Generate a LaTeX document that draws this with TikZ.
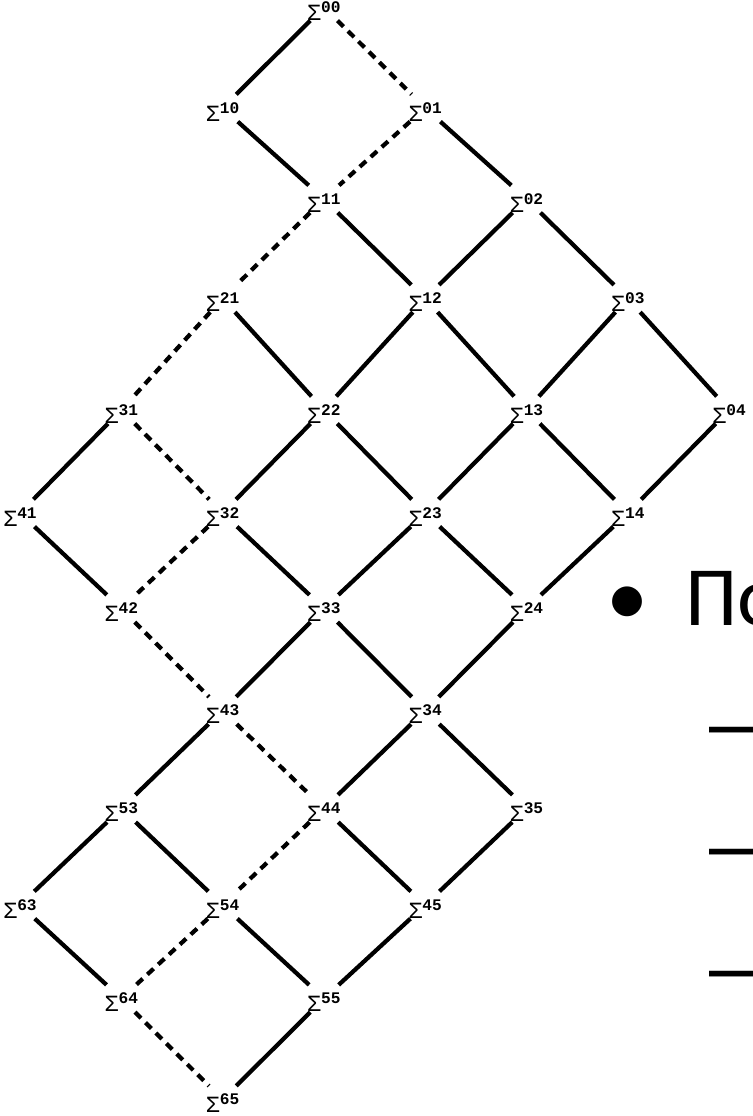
\documentclass[tikz,border=0pt]{standalone}
\usepackage{fontspec}
\setmainfont{Carlito}
\newfontfamily\monofont{Liberation Mono}
\newfontfamily\dashfont{Liberation Sans}
\usepackage{tikz}
\usetikzlibrary{positioning}

\newcommand{\sig}[1]{{\monofont\fontsize{16.5pt}{16.5pt}\selectfont Σ}\raisebox{5.7pt}{\monofont\bfseries\fontsize{11.5pt}{11.5pt}\selectfont #1}\hspace{-5pt}}

\tikzset{
  sigma/.style={inner xsep=1.5pt, inner ysep=0pt, text height=19pt, text depth=0pt},
  link/.style={line width=3pt},
  dotlink/.style={link, dash pattern=on 6pt off 4.5pt},
  slide/.style={font=\fontsize{60pt}{72pt}\selectfont, inner sep=0pt}
}

\begin{document}
\begin{tikzpicture}[x=0.025cm, y=-0.025cm]
\useasboundingbox (0,0) rectangle (752,1116);
\clip (0,0) rectangle (752,1116);
% lattice of partial sums
\foreach \i/\j in {0/0,1/0,0/1,1/1,0/2,2/1,1/2,0/3,3/1,2/2,1/3,0/4,4/1,3/2,2/3,1/4,
                   4/2,3/3,2/4,4/3,3/4,5/3,4/4,3/5,6/3,5/4,4/5,6/4,5/5,6/5}{
  \pgfmathtruncatemacro{\r}{\i+\j}
  \pgfmathsetmacro{\px}{20+101.3*(3-\i+\j)}
  \pgfmathsetmacro{\py}{{7,108,199,298.5,410,513,608.5,710.5,808.5,905,998.5,1099.5}[\r]}
  \node[sigma] (s\i\j) at (\px,\py) {\sig{\i\j}};
}
\foreach \a/\b in {00/10,10/11,01/02,11/12,02/12,02/03,21/22,12/22,12/13,03/13,03/04,
                   31/41,22/32,22/23,13/23,13/14,04/14,41/42,32/33,23/33,23/24,14/24,
                   33/43,33/34,24/34,43/53,34/44,34/35,53/63,53/54,44/45,35/45,
                   63/64,54/55,45/55,55/65}
  \draw[link] (s\a) -- (s\b);
\foreach \a/\b in {00/01,01/11,11/21,21/31,31/32,32/42,42/43,43/44,44/54,54/64,64/65}
  \draw[dotlink] (s\a) -- (s\b);
% slide text cut off at the right
\node[slide, anchor=base] (bul) at (628,625) {•};
\node[slide, anchor=base west] (po) at (685,625) {По};
\foreach \k/\yb in {1/751,2/873,3/995}
  \node[slide, font=\dashfont\fontsize{60pt}{72pt}\selectfont, anchor=base west] (dash\k) at (709,\yb) {–};
\end{tikzpicture}
\end{document}
